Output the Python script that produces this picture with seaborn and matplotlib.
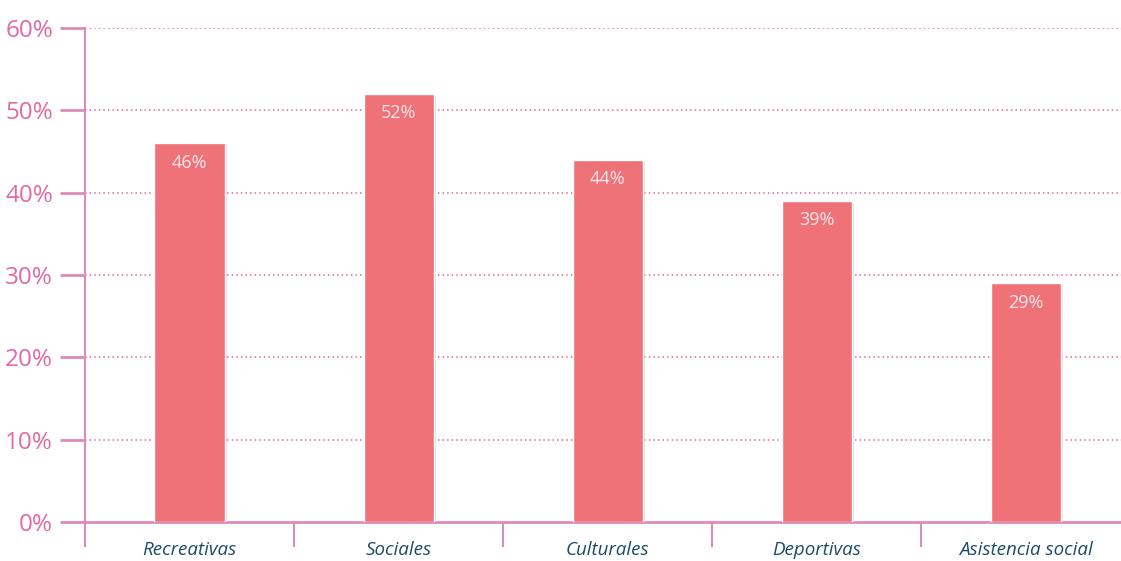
import matplotlib
matplotlib.use('Agg')
import matplotlib.pyplot as plt
import matplotlib.patheffects as pe
import seaborn as sns
import pandas as pd

# Datos
categorias = ['Recreativas', 'Sociales', 'Culturales', 'Deportivas', 'Asistencia social']
porcentajes = [46, 52, 44, 39, 29]
yticks = [0, 10, 20, 30, 40, 50, 60]

df = pd.DataFrame({'categoria': categorias, 'pct': porcentajes})

sns.set_style('white')
plt.rcParams['font.family'] = ['Open Sans', 'DejaVu Sans']

rosa = '#dd8cb9'
rosa_txt = '#e06aa5'
barra = '#ee7277'

fig = plt.figure(figsize=(11.21, 5.61), dpi=100)
ax = fig.add_axes([0.0758, 0.0695, 0.9326, 0.8806])

sns.barplot(data=df, x='categoria', y='pct', color=barra, width=0.335,
            saturation=1, ax=ax, zorder=3)
for p in ax.patches:
    p.set_path_effects([pe.SimplePatchShadow(offset=(1.5, -1.5), shadow_rgbFace='#c8c2ec', alpha=0.6),
                        pe.Normal()])

for i, v in enumerate(porcentajes):
    ax.annotate(f'{v}%', (i, v), xytext=(0, -14), textcoords='offset points',
                ha='center', va='center', color='#fde8ec', fontsize=13, zorder=4)

ax.set_ylim(0, 60)
ax.set_xlim(-0.5, 4.5)
ax.set_yticks(yticks)
ax.set_yticklabels([f'{t}%' for t in yticks], color=rosa_txt, fontsize=17.5)
for t in yticks[1:]:
    ax.axhline(t, color='#d96aa3', linestyle=(0, (1, 2)), linewidth=1.1, zorder=1)

ax.set_xticks(range(len(categorias)))
ax.set_xticklabels(categorias, style='italic', color='#1d4a66', fontsize=13.5)
ax.tick_params(axis='x', which='major', length=0, pad=14)
ax.set_xticks([-0.5, 0.5, 1.5, 2.5, 3.5], minor=True)
ax.tick_params(axis='x', which='minor', bottom=True, length=18, width=1.5, color=rosa, direction='out')
ax.tick_params(axis='y', left=True, length=18, width=2, color=rosa, direction='out', pad=5)

for s in ['top', 'right']:
    ax.spines[s].set_visible(False)
ax.spines['left'].set_color(rosa)
ax.spines['left'].set_linewidth(1.5)
ax.spines['bottom'].set_color(rosa)
ax.spines['bottom'].set_linewidth(2)
ax.set_xlabel('')
ax.set_ylabel('')

plt.savefig('out.png', dpi=100)
